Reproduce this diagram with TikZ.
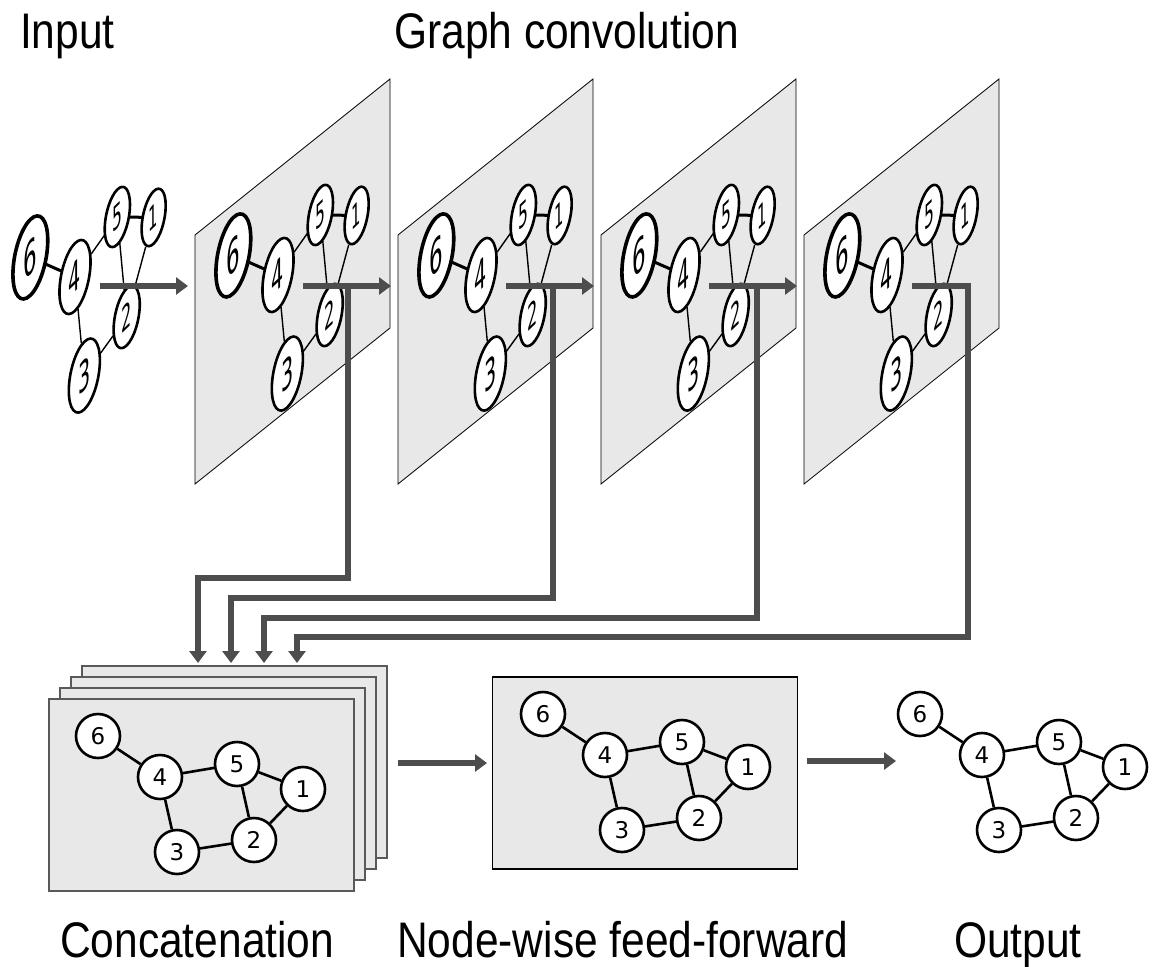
\documentclass[tikz,border=0pt]{standalone}
\usepackage{fontspec}
\setmainfont{Liberation Sans}
\newfontfamily\digitfont{DejaVu Sans}
\usetikzlibrary{arrows.meta}
\definecolor{panelgray}{RGB}{232,232,232}
\definecolor{flowgray}{RGB}{77,77,77}
\tikzset{>={Triangle[width=17pt,length=12pt]},
gnode/.style={circle,draw,fill=white,line width=2.6pt,minimum size=44pt,
  inner sep=0pt,font={\digitfont\fontsize{23}{23}\selectfont}},
gedge/.style={line width=2.6pt},
gbold/.style={},
g1/.style={},g2/.style={},g3/.style={},g4/.style={},g5/.style={},g6/.style={},
% graph seen on a slanted sheet
persp/.style={xscale=0.55,yscale=1.436,yslant=0.374,transform shape,
  gnode/.append style={xscale=1.2,font={\digitfont\fontsize{27}{27}\selectfont}},
  gedge/.style={line width=1.4pt},gbold/.style={line width=3pt},
  g6/.style={xshift=-16pt,yshift=3pt,scale=1.2,line width=3.6pt},
  g4/.style={scale=1.07},g5/.style={scale=0.87},g1/.style={scale=0.83},
  g2/.style={scale=0.9},g3/.style={scale=1.07}},
panel/.style={draw,fill=panelgray,line width=0.8pt},
sheet/.style={draw=black!65,fill=panelgray,line width=1.2pt,inner sep=0pt,
  minimum width=305pt,minimum height=192pt},
flow/.style={draw=flowgray,line width=6pt},
heading/.style={anchor=base west,inner sep=0pt,xscale=0.85,
  font=\fontsize{50}{50}\selectfont}
}
\newcommand{\drawgraph}[1]{%
  \node[gnode,g6] (#1-6) at (-62,-41) {6};
  \node[gnode,g4] (#1-4) at (0,0) {4};
  \node[gnode,g5] (#1-5) at (77,-13) {5};
  \node[gnode,g1] (#1-1) at (143,12) {1};
  \node[gnode,g2] (#1-2) at (94,63) {2};
  \node[gnode,g3] (#1-3) at (17,75) {3};
  \draw[gedge,gbold] (#1-6) -- (#1-4) (#1-5) -- (#1-1);
  \draw[gedge] (#1-4) -- (#1-5) (#1-5) -- (#1-2) (#1-1) -- (#1-2)
    (#1-4) -- (#1-3) (#1-3) -- (#1-2);
}

\begin{document}
\begin{tikzpicture}[x=1pt,y=-1pt]
\useasboundingbox (0,0) rectangle (1152,967);

\node[heading] (tin) at (20,48) {Input};
\node[heading] (tconv) at (394,48) {Graph convolution};
\node[heading] (tcat) at (60,957) {Concatenation};
\node[heading] (tff) at (397,957) {Node-wise feed-forward};
\node[heading] (tout) at (954,957) {Output};

% input
\begin{scope}[shift={(75,277)},persp]
  \drawgraph{in}
\end{scope}
\coordinate (in-out) at (100,286);

% convolution sheets
\foreach \k/\x in {1/278,2/481,3/684,4/887}{
  \draw[panel] (\x-83,235) -- ++(195,-156) -- ++(0,249) -- ++(-195,156) -- cycle;
  \begin{scope}[shift={(\x,275)},persp]
    \drawgraph{c\k}
  \end{scope}
  \coordinate (c\k-in) at (\x-90,286);
  \coordinate (c\k-out) at (\x+25,286);
}
\coordinate (c1-drop) at (348,286);
\coordinate (c2-drop) at (553,286);
\coordinate (c3-drop) at (757,286);
\coordinate (c4-drop) at (968,286);

% concatenation
\foreach \s in {3,2,1,0}
  \node[sheet] (cc\s) at (201.5+11*\s,795-11*\s) {};
\begin{scope}[shift={(160,777)}]
  \drawgraph{cc}
\end{scope}
\foreach \k/\t in {1/198,2/231,3/264,4/297}
  \coordinate (cc-in\k) at (\t,663);
\coordinate (cc-out) at (398,763);

% feed-forward
\node[sheet,draw=black] (ffbox) at (645,773) {};
\begin{scope}[shift={(605,755)}]
  \drawgraph{ff}
\end{scope}
\coordinate (ff-in) at (487,763);
\coordinate (ff-out) at (807,761);

% output
\begin{scope}[shift={(982,755)}]
  \drawgraph{out}
\end{scope}
\coordinate (out-in) at (896,761);

% arrows
\draw[flow,->] (in-out) -- (c1-in);
\foreach \k/\n in {1/2,2/3,3/4}
  \draw[flow,->] (c\k-out) -- (c\n-in);
\foreach \k/\l in {1/578,2/598,3/618}
  \draw[flow,->] (c\k-drop) -- ++(0,\l-286) -| (cc-in\k);
\draw[flow,->] (c4-out) -- (c4-drop) -- ++(0,351) -| (cc-in4);
\draw[flow,->] (cc-out) -- (ff-in);
\draw[flow,->] (ff-out) -- (out-in);
\end{tikzpicture}
\end{document}
